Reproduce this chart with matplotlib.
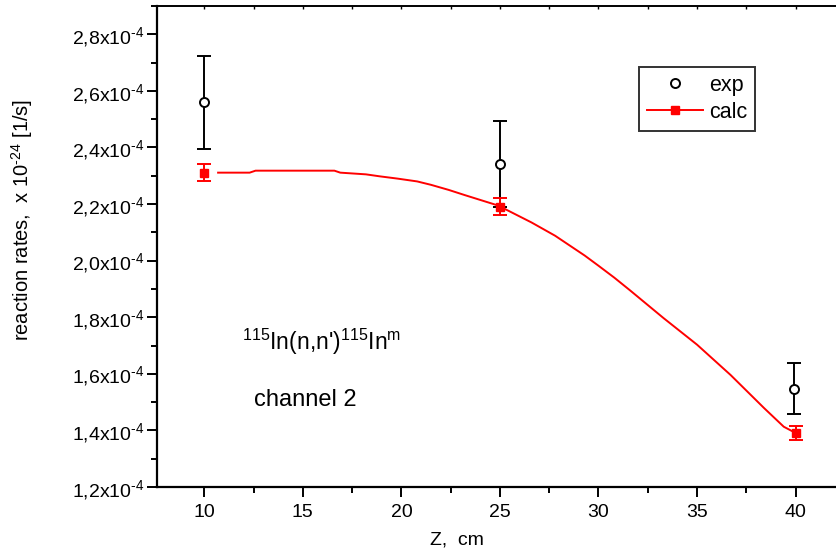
import matplotlib.pyplot as plt
import numpy as np
from matplotlib.ticker import MultipleLocator, FuncFormatter, NullFormatter

plt.rcParams["font.family"] = ["Liberation Sans", "DejaVu Sans"]
plt.rcParams["mathtext.fontset"] = "custom"
plt.rcParams["mathtext.rm"] = "Liberation Sans"
plt.rcParams["mathtext.it"] = "Liberation Sans"
plt.rcParams["axes.unicode_minus"] = False

# measured points
z_exp = [10.0, 25.0, 39.9]
rate_exp = [2.56, 2.34, 1.547]
err_exp = [0.165, 0.152, 0.09]

z_calc = [10.0, 25.0, 40.0]
rate_calc = [2.311, 2.19, 1.391]
err_calc = [0.03, 0.03, 0.025]

# calculated curve
z_curve = [10.7, 12.3, 12.6, 16.6, 16.9, 18.2, 18.9, 19.8, 20.8, 21.5, 22.4,
           23.2, 24.9, 26.6, 27.8, 29.3, 30.0, 30.8, 31.6, 33.3, 35.0, 36.7,
           38.4, 39.4, 40.0]
rate_curve = [2.311, 2.311, 2.318, 2.318, 2.311, 2.305, 2.298, 2.290, 2.280,
              2.268, 2.250, 2.232, 2.195, 2.135, 2.088, 2.018, 1.982, 1.94,
              1.895, 1.797, 1.703, 1.596, 1.479, 1.413, 1.391]

fig = plt.figure(figsize=(8.36, 5.55), dpi=100)
ax = fig.add_axes([157 / 836, 68 / 555, 679 / 836, 481 / 555])

ax.plot(z_curve, rate_curve, color="red", lw=1.4)
ax.errorbar(z_calc, rate_calc, yerr=err_calc, fmt="s", color="red", ms=6,
            mec="red", mfc="red", elinewidth=1.4, capsize=5, capthick=1.4)
ax.errorbar(z_exp, rate_exp, yerr=err_exp, fmt="o", color="black", ms=6.5,
            mfc="white", mec="black", mew=1.4, elinewidth=1.4, capsize=5,
            capthick=1.4, zorder=1)

ax.set_xlim(7.6, 42.05)
ax.set_ylim(1.2, 2.9)

ax.xaxis.set_major_locator(MultipleLocator(5))
ax.xaxis.set_minor_locator(MultipleLocator(2.5))
ax.yaxis.set_major_locator(MultipleLocator(0.2))
ax.yaxis.set_minor_locator(MultipleLocator(0.1))
ax.yaxis.set_major_formatter(FuncFormatter(
    lambda v, p: ("%.1f" % v).replace(".", ",") + r"x10$^{\text{-4}}$"))

ax.spines["right"].set_visible(False)
ax.spines["left"].set_linewidth(1.6)
ax.spines["bottom"].set_linewidth(1.6)
ax.spines["top"].set_linewidth(1.2)

ax.tick_params(which="major", direction="out", length=7, width=1.4,
               labelsize=14, pad=2)
ax.tick_params(which="minor", direction="out", length=4.5, width=1.4)
ax.tick_params(axis="x", which="major", pad=5)

# small inward ticks on the top frame line
top = ax.secondary_xaxis("top")
top.xaxis.set_major_locator(MultipleLocator(2.5))
top.xaxis.set_major_formatter(NullFormatter())
top.tick_params(direction="in", length=2, width=1)
top.spines["top"].set_linewidth(1.2)

ax.set_xlabel("Z,  cm", fontsize=14)
ax.xaxis.set_label_coords((457 - 157) / 679, -0.093)
ax.set_ylabel(r"reaction rates,  x 10$^{\text{-24}}$ [1/s]", fontsize=14.5)
ax.yaxis.set_label_coords(-0.18, (487 - 220) / 481)

ax.text(11.9, 1.713,
        r"$^{\mathregular{115}}$In(n,n')$^{\mathregular{115}}$In$^{\mathregular{m}}$",
        fontsize=16.5, va="center")
ax.text(12.5, 1.508, "channel 2", fontsize=17, va="center")

h_exp = ax.plot([], [], "o", color="black", mfc="white", mew=1.4, ms=6.5)[0]
h_calc = ax.plot([], [], "-s", color="red", ms=6, lw=1.4)[0]
leg = ax.legend([h_exp, h_calc], ["exp", "calc"], loc="upper left",
                bbox_to_anchor=((639 - 157) / 679, (487 - 67) / 481),
                fontsize=15.5, frameon=True, fancybox=False, edgecolor="black",
                handlelength=2.6, handletextpad=0.3, borderpad=0.35,
                borderaxespad=0, labelspacing=0.3)
leg.get_frame().set_linewidth(1.4)

fig.savefig("out.png", dpi=100)
